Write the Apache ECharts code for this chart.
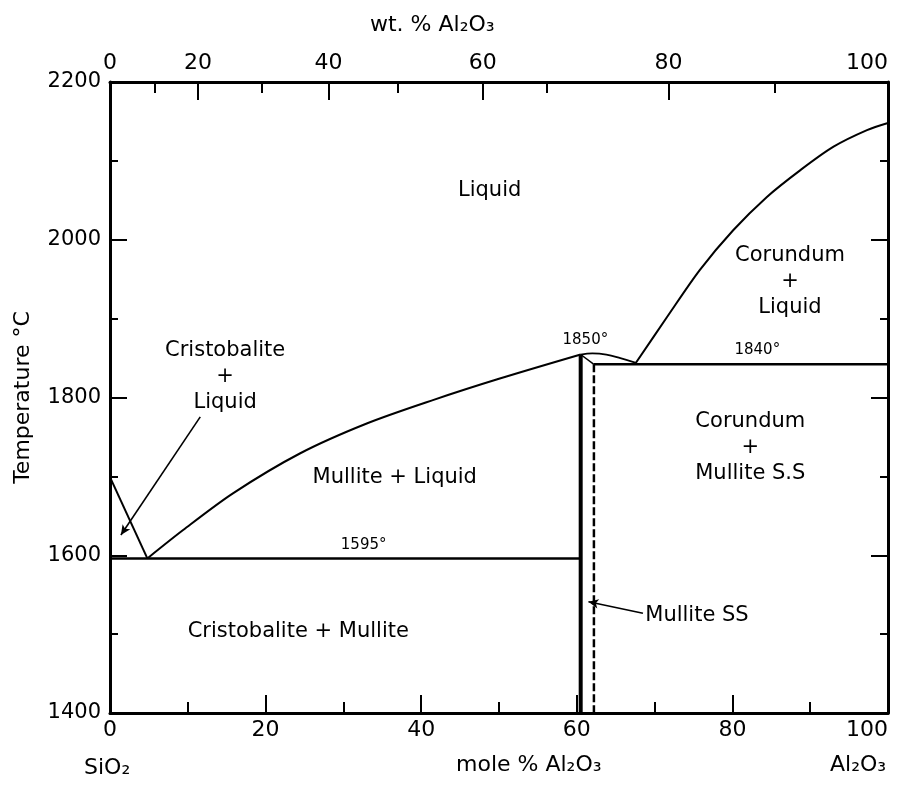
<!DOCTYPE html>
<html><head><meta charset="utf-8">
<script src="https://cdn.jsdelivr.net/npm/echarts@6/dist/echarts.min.js"></script>
<style>html,body{margin:0;padding:0;background:#fff}#c{width:898px;height:785px}</style>
</head><body><div id="c"></div>
<script>
// ---- data (mole % Al2O3, temperature °C) ----
const wtLabels   = ['0','20','40','60','80','100'];
const wtMajorPos = [0, 11.3, 28.1, 47.9, 71.8, 100];   // mole % positions of wt.% ticks
const wtMinorPos = [5.8, 19.5, 37.0, 56.2, 85.5];
const silicaLiquidus   = [[0,1699],[4.8,1596]];
const mulliteLiquidus  = [[4.8,1596],[9.4,1632],[15.8,1678.5],[24.4,1729],[33.0,1767],[41.6,1797],[50.1,1824],[60.5,1854.5]];
const congruentArc     = [[60.5,1854.5],[62,1856],[63.8,1854.5],[65.6,1850],[67.6,1844]];
const corundumLiquidus = [[67.6,1844],[71.6,1902],[75.8,1961.5],[80.1,2012],[84.4,2054],[88.7,2088],[93.0,2118],[97.3,2139],[100,2148]];
const eutecticLine     = [[0,1596],[60.5,1596]];
const mulliteLeft      = [[60.5,1854.5],[60.5,1400]];
const peakToSS         = [[60.5,1854.5],[62.2,1842]];
const mulliteRight     = [[62.2,1842],[62.2,1400]];
const peritecticLine   = [[62.2,1842],[100,1842]];
const arrowCristobalite = [[11.6,1775.5],[1.4,1625.6]];
const arrowMulliteSS    = [[68.5,1526.4],[61.5,1541]];
const regionLabels = [
  ['Liquid', 48.8, 2063],
  ['Cristobalite\n+\nLiquid', 14.8, 1826],
  ['Mullite + Liquid', 36.6, 1699],
  ['Corundum\n+\nLiquid', 87.4, 1947],
  ['Corundum\n+\nMullite S.S', 82.3, 1736],
  ['Cristobalite + Mullite', 24.2, 1503]
];
const tempLabels = [
  ['1595°', 32.6, 1613],
  ['1850°', 61.1, 1873],
  ['1840°', 83.2, 1860]
];
const leaderLabels = [['Mullite SS', 68.8, 1524]];

const FONT = 'DejaVu Sans';
const BLACK = '#000';

function lineSeries(data, width, opts) {
  return Object.assign({
    type: 'line', data: data, symbol: 'none', silent: true,
    lineStyle: { color: BLACK, width: width }, z: 3
  }, opts || {});
}
function textSeries(items, size, align, lh) {
  return {
    type: 'scatter', symbolSize: 0, silent: true, z: 5, itemStyle: { color: BLACK },
    data: items.map(r => ({ name: r[0], value: [r[1], r[2]] })),
    label: { show: true, position: 'inside', formatter: '{b}', color: BLACK,
      textBorderWidth: 0, opacity: 1,
      fontFamily: FONT, fontSize: size, lineHeight: lh || size + 5, align: align, verticalAlign: 'middle' }
  };
}

const chart = echarts.init(document.getElementById('c'), null, { renderer: 'canvas' });
chart.setOption({
  backgroundColor: '#fff',
  animation: false,
  grid: { left: 110, right: 10, top: 82, bottom: 72, containLabel: false, outerBoundsMode: 'none' },
  xAxis: [
    { type: 'value', position: 'bottom', min: 0, max: 100, interval: 20,
      axisLine: { lineStyle: { color: BLACK, width: 3 } },
      axisTick: { inside: true, length: 18, lineStyle: { color: BLACK, width: 2 } },
      minorTick: { show: true, splitNumber: 2, length: 11, lineStyle: { color: BLACK, width: 2 } },
      axisLabel: { color: BLACK, fontFamily: FONT, fontSize: 22, margin: 6, alignMaxLabel: 'right',
        formatter: v => String(v) },
      splitLine: { show: false } },
    { type: 'value', position: 'top', min: 0, max: 100,
      axisLine: { lineStyle: { color: BLACK, width: 3 } },
      axisTick: { inside: true, length: 18, customValues: wtMajorPos, lineStyle: { color: BLACK, width: 2 } },
      axisLabel: { color: BLACK, fontFamily: FONT, fontSize: 22, margin: 8, customValues: wtMajorPos,
        alignMaxLabel: 'right',
        formatter: function (v) { const i = wtMajorPos.indexOf(v); return i >= 0 ? wtLabels[i] : ''; } },
      splitLine: { show: false } },
    { type: 'value', position: 'top', min: 0, max: 100,
      axisLine: { show: false },
      axisTick: { inside: true, length: 11, customValues: wtMinorPos, lineStyle: { color: BLACK, width: 2 } },
      axisLabel: { show: false },
      splitLine: { show: false } }
  ],
  yAxis: [
    { type: 'value', position: 'left', min: 1400, max: 2200, interval: 200,
      name: 'Temperature °C', nameLocation: 'middle', nameRotate: 90, nameGap: 76,
      nameTextStyle: { color: BLACK, fontFamily: FONT, fontSize: 22 },
      axisLine: { lineStyle: { color: BLACK, width: 3 } },
      axisTick: { inside: true, length: 17, lineStyle: { color: BLACK, width: 2 } },
      minorTick: { show: true, splitNumber: 2, length: 8, lineStyle: { color: BLACK, width: 2 } },
      axisLabel: { color: BLACK, fontFamily: FONT, fontSize: 21, margin: 9, formatter: v => String(v) },
      splitLine: { show: false } },
    { type: 'value', position: 'left', offset: -778, min: 1400, max: 2200, interval: 200,
      axisLine: { lineStyle: { color: BLACK, width: 3 } },
      axisTick: { inside: false, length: 17, lineStyle: { color: BLACK, width: 2 } },
      minorTick: { show: true, splitNumber: 2, length: 8, lineStyle: { color: BLACK, width: 2 } },
      axisLabel: { show: false },
      splitLine: { show: false } }
  ],
  graphic: [
    { type: 'text', left: 370, top: 14, style: { text: 'wt. % Al₂O₃', fill: BLACK, font: '22px "DejaVu Sans"' } },
    { type: 'text', left: 84, top: 757, style: { text: 'SiO₂', fill: BLACK, font: '22px "DejaVu Sans"' } },
    { type: 'text', left: 456, top: 754, style: { text: 'mole % Al₂O₃', fill: BLACK, font: '22px "DejaVu Sans"' } },
    { type: 'text', left: 830, top: 754, style: { text: 'Al₂O₃', fill: BLACK, font: '22px "DejaVu Sans"' } }
  ],
  series: [
    lineSeries(silicaLiquidus, 2),
    lineSeries(mulliteLiquidus, 2, { smooth: 0.3 }),
    lineSeries(congruentArc, 1.8, { smooth: 0.4 }),
    lineSeries(corundumLiquidus, 2, { smooth: 0.3 }),
    lineSeries(eutecticLine, 2.5),
    lineSeries(mulliteLeft, 4),
    lineSeries(peakToSS, 1.5),
    lineSeries(mulliteRight, 2.5, { lineStyle: { color: BLACK, width: 2.5, type: [8, 3] } }),
    lineSeries(peritecticLine, 2.5),
    {
      type: 'line', data: [], symbol: 'none', silent: true,
      markLine: {
        silent: true, symbol: ['none', 'arrow'], symbolSize: [7, 10],
        lineStyle: { color: BLACK, width: 1.6, type: 'solid' },
        label: { show: false },
        data: [
          [{ coord: arrowCristobalite[0] }, { coord: arrowCristobalite[1] }],
          [{ coord: arrowMulliteSS[0] }, { coord: arrowMulliteSS[1] }]
        ]
      }
    },
    textSeries(regionLabels, 21, 'center', 26),
    textSeries(tempLabels, 15, 'center'),
    textSeries(leaderLabels, 21, 'left')
  ]
});
</script>
</body></html>
